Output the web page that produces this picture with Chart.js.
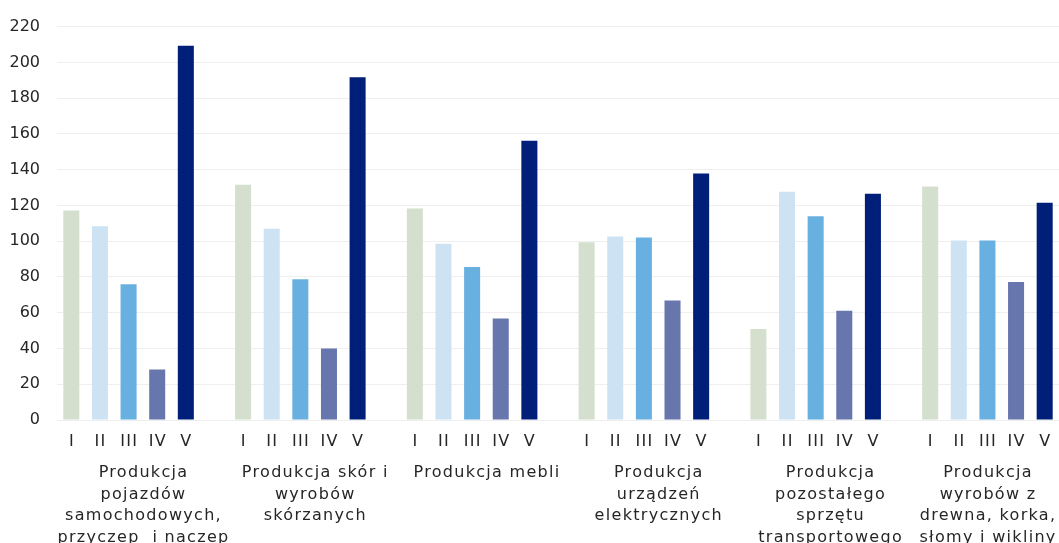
<!DOCTYPE html>
<html lang="pl">
<head>
<meta charset="utf-8">
<title>Produkcja</title>
<script src="https://cdn.jsdelivr.net/npm/chart.js@4/dist/chart.umd.min.js"></script>
<style>
    html, body { margin: 0; padding: 0; background: #fff; overflow: hidden; }
    canvas { display: block; }
</style>
</head>
<body>
<canvas id="wykres" width="1059" height="543"></canvas>
<script>
// Nazwy grup (każda linia osobno)
const grupy = [
    ['Produkcja', 'pojazdów', 'samochodowych,', 'przyczep  i naczep'],
    ['Produkcja skór i', 'wyrobów', 'skórzanych'],
    ['Produkcja mebli'],
    ['Produkcja', 'urządzeń', 'elektrycznych'],
    ['Produkcja', 'pozostałego', 'sprzętu', 'transportowego'],
    ['Produkcja', 'wyrobów z', 'drewna, korka,', 'słomy i wikliny']
];
const serie = ['I', 'II', 'III', 'IV', 'V'];

// Wartości
const serieI   = [117.2, 131.5, 118.3, 99.4, 50.9, 130.6];
const serieII  = [108.3, 107.0, 98.5, 102.6, 127.6, 100.4];
const serieIII = [75.9, 78.7, 85.6, 102.0, 113.9, 100.4];
const serieIV  = [28.3, 40.0, 56.7, 66.8, 61.1, 77.2];
const serieV   = [209.3, 191.7, 156.1, 137.8, 126.5, 121.5];

const osY = { min: 0, max: 220, krok: 20 };
const kolory = ['#d4dfcd', '#cde3f4', '#68b0e0', '#6777ad', '#001f78'];

const wartosci = [serieI, serieII, serieIII, serieIV, serieV];
const fontTekst = "'DejaVu Sans', Verdana, sans-serif";
const rozmiar = 16;

// Spłaszczamy dane: 5 słupków na grupę i pusta kolumna między grupami
const etykiety = [];
const dane = [];
const tla = [];
const poczatkiGrup = [];
grupy.forEach((g, gi) => {
    poczatkiGrup.push(etykiety.length);
    serie.forEach((s, si) => {
        etykiety.push(s);
        dane.push(wartosci[si][gi]);
        tla.push(kolory[si]);
    });
    if (gi < grupy.length - 1) {
        etykiety.push('');
        dane.push(null);
        tla.push('rgba(0,0,0,0)');
    }
});

// Podpisy I..V i nazwy grup pod osią
const podpisyGrup = {
    id: 'podpisyGrup',
    afterDraw(chart) {
        const ctx = chart.ctx;
        const x = chart.scales.x;
        const dol = chart.chartArea.bottom;
        ctx.save();
        ctx.fillStyle = '#262626';
        ctx.textAlign = 'center';
        ctx.textBaseline = 'middle';
        ctx.font = rozmiar + 'px ' + fontTekst;
        ctx.letterSpacing = '1.3px';
        etykiety.forEach((e, i) => {
            if (e) ctx.fillText(e, x.getPixelForValue(i) + 0.6, dol + 22);
        });
        grupy.forEach((linie, gi) => {
            const start = poczatkiGrup[gi];
            const koniec = gi < grupy.length - 1 ? start + serie.length : start + serie.length - 1;
            const srodek = (x.getPixelForValue(start) + x.getPixelForValue(koniec)) / 2;
            linie.forEach((l, li) => {
                ctx.fillText(l, srodek + 0.6, dol + 53 + li * 21.5);
            });
        });
        ctx.restore();
    }
};

const ctx = document.getElementById('wykres').getContext('2d');
new Chart(ctx, {
    type: 'bar',
    data: {
        labels: etykiety,
        datasets: [{
            data: dane,
            backgroundColor: tla,
            borderWidth: 0,
            categoryPercentage: 1,
            barPercentage: 0.56
        }]
    },
    options: {
        responsive: false,
        animation: false,
        layout: { padding: { top: 24, bottom: 123, left: 0, right: 0 } },
        plugins: {
            legend: { display: false },
            tooltip: { enabled: false }
        },
        scales: {
            x: {
                display: false
            },
            y: {
                min: osY.min,
                max: osY.max,
                ticks: {
                    stepSize: osY.krok,
                    color: '#262626',
                    padding: 17,
                    font: { family: fontTekst, size: rozmiar }
                },
                grid: { color: '#efefef', lineWidth: 1, drawTicks: false },
                border: { display: false },
                afterFit: function(scale) { scale.width = 57; }
            }
        }
    },
    plugins: [podpisyGrup]
});
</script>
</body>
</html>
